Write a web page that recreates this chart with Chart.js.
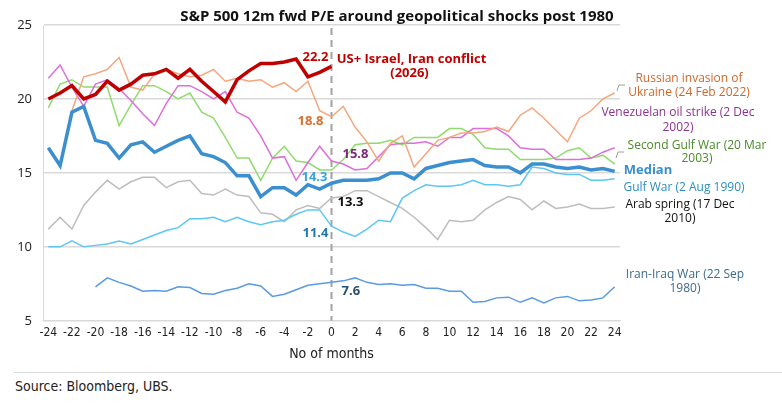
<!DOCTYPE html>
<html><head><meta charset="utf-8">
<script src="https://cdn.jsdelivr.net/npm/chart.js@4.4.1/dist/chart.umd.min.js"></script>
<style>
html,body{margin:0;padding:0;background:#fff;}
#wrap{position:relative;width:782px;height:410px;}
#sep{position:absolute;left:14px;top:372px;width:768px;height:1px;background:#d9d9d9;}
#src{position:absolute;left:15px;top:378px;font:14px "Liberation Sans Narrow","DejaVu Sans Condensed",Roboto,sans-serif;color:#222;}
</style></head>
<body><div id="wrap"><canvas id="c" width="782" height="370"></canvas><div id="sep"></div><div id="src">Source: Bloomberg, UBS.</div></div>
<script>
const months = [];
for (let m = -24; m <= 24; m++) months.push(m);
const xTicks = months.filter(m => m % 2 === 0);
const yTicks = [5, 10, 15, 20, 25];

const usIsraelIran = [20.0,20.4,20.9,20.0,20.3,21.2,20.6,21.0,21.6,21.7,22.0,21.4,22.0,21.2,20.5,19.8,21.3,21.9,22.4,22.4,22.5,22.7,21.5,21.8,22.2];
const russiaUkraine = [null,null,19.2,21.5,21.7,22.0,22.8,20.8,20.6,21.7,22.0,21.7,21.5,21.6,22.0,21.2,21.4,21.2,21.3,20.8,21.1,20.5,21.2,19.2,18.8,19.5,18.1,17.1,15.8,17.0,17.5,15.4,16.3,17.2,17.4,17.7,17.7,17.8,18.1,17.8,18.9,19.4,18.7,17.9,17.1,18.7,19.2,20.0,20.4];
const venezuela = [21.4,22.3,20.8,19.5,21.0,21.3,20.7,19.9,19.0,18.2,19.7,20.9,20.9,20.5,20.0,20.5,19.1,18.7,17.5,16.0,16.1,14.5,15.7,16.8,15.8,15.6,15.2,15.3,16.1,16.9,17.0,17.0,17.1,16.8,17.4,17.4,18.0,18.0,18.0,17.5,16.7,16.6,16.6,15.9,15.9,15.9,16.0,16.4,16.7];
const secondGulf = [19.4,21.0,21.3,20.8,20.8,20.8,18.2,19.6,20.9,20.9,20.5,20.0,20.4,19.1,18.7,17.4,16.0,16.0,14.5,16.0,16.8,15.8,15.7,15.2,15.2,15.9,16.9,17.0,17.0,17.2,16.9,17.4,17.4,17.4,18.0,18.0,17.6,16.7,16.6,16.6,15.9,15.9,15.9,16.0,16.5,16.7,16.0,16.2,15.6];
const median = [16.7,15.5,19.1,19.5,17.2,17.0,16.0,16.9,17.1,16.4,16.8,17.2,17.5,16.3,16.1,15.7,14.8,14.8,13.4,14.0,14.0,13.5,14.2,13.9,14.3,14.5,14.5,14.5,14.6,15.0,15.0,14.6,15.3,15.5,15.7,15.8,15.9,15.5,15.4,15.4,15.0,15.6,15.6,15.4,15.3,15.4,15.2,15.3,15.1];
const gulfWar = [10.0,10.0,10.4,10.0,10.1,10.2,10.4,10.2,10.5,10.8,11.1,11.3,11.9,11.9,12.0,11.7,12.0,11.7,11.5,11.7,11.8,12.2,12.5,12.5,11.4,11.0,10.7,11.2,11.8,11.7,13.3,13.8,14.2,14.1,14.1,14.2,14.5,14.2,14.2,14.1,14.2,15.4,15.3,15.0,14.9,14.9,14.5,14.5,14.6];
const arabSpring = [11.2,12.0,11.2,12.8,13.7,14.5,13.9,14.4,14.7,14.7,14.0,14.4,14.5,13.6,13.5,13.9,13.5,13.4,12.3,12.2,11.7,12.5,12.8,12.6,13.3,13.4,13.8,13.8,13.4,13.0,12.6,12.0,11.3,10.5,11.8,11.7,11.8,12.5,13.0,13.4,13.2,12.5,13.1,12.6,12.7,12.9,12.6,12.6,12.7];
const iranIraq = [null,null,null,null,7.3,7.9,7.6,7.35,7.0,7.05,7.0,7.3,7.25,6.85,6.8,7.05,7.2,7.5,7.35,6.65,6.8,7.1,7.4,7.5,7.6,7.7,7.9,7.6,7.45,7.5,7.4,7.45,7.2,7.2,7.0,7.0,6.25,6.3,6.55,6.6,6.25,6.55,6.2,6.55,6.65,6.35,6.4,6.55,7.3];

function pts(values){ return values.map((v, i) => ({x: months[i], y: v})); }
function ds(label, data, color, width){
  return {label, data: pts(data), borderColor: color, backgroundColor: color, borderWidth: width,
    pointRadius: 0, tension: 0, spanGaps: false, fill: false};
}

const FONT = '"Open Sans","Noto Sans",sans-serif';
const NARROW = '"Liberation Sans Narrow","DejaVu Sans Condensed",Roboto,sans-serif';

const overlay = {
  id: 'overlay',
  beforeDatasetsDraw(chart){
    const {ctx, chartArea: ca, scales: {x}} = chart;
    const x0 = x.getPixelForValue(0);
    ctx.save();
    ctx.strokeStyle = '#a3a3a3'; ctx.lineWidth = 2; ctx.setLineDash([7,5]);
    ctx.beginPath(); ctx.moveTo(x0, ca.top + 3); ctx.lineTo(x0, ca.bottom); ctx.stroke();
    ctx.restore();
  },
  afterDatasetsDraw(chart){
    const {ctx, chartArea: ca, scales: {x, y}} = chart;
    const i0 = months.indexOf(0);
    const x0 = x.getPixelForValue(0);
    ctx.save();
    ctx.fillStyle = '#111'; ctx.font = 'bold 15px ' + FONT; ctx.textAlign = 'center'; ctx.textBaseline = 'middle';
    ctx.fillText('S&P 500 12m fwd P/E around geopolitical shocks post 1980', 397, 17);
    const lab = (txt, val, dx, dy, color, align) => {
      ctx.fillStyle = color; ctx.font = 'bold 13px ' + FONT; ctx.textAlign = align; ctx.textBaseline = 'middle';
      ctx.fillText(txt, x0 + dx, y.getPixelForValue(val) + dy);
    };
    lab(usIsraelIran[i0].toFixed(1), usIsraelIran[i0], -3, -9, '#c00000', 'right');
    lab(russiaUkraine[i0].toFixed(1), russiaUkraine[i0], -8, 5, '#d9702f', 'right');
    lab(venezuela[i0].toFixed(1), venezuela[i0], 11, -7, '#7a2a78', 'left');
    lab(median[i0].toFixed(1), median[i0], -4, -6, '#3aa3e0', 'right');
    lab(arabSpring[i0].toFixed(1), arabSpring[i0], 6, 4, '#111', 'left');
    lab(gulfWar[i0].toFixed(1), gulfWar[i0], -3, 7, '#1f78b0', 'right');
    lab(iranIraq[i0].toFixed(1), iranIraq[i0], 10, 9, '#24506e', 'left');
    ctx.fillStyle = '#c00000'; ctx.font = 'bold 13px ' + FONT; ctx.textAlign = 'center';
    ctx.fillText('US+ Israel, Iran conflict', x0 + 80, 59);
    ctx.fillText('(2026)', x0 + 78, 73);
    const R = ca.right;
    const side = (lines, cx, ys, color, bold) => {
      ctx.fillStyle = color; ctx.font = (bold ? 'bold 13px ' : '12px ') + FONT; ctx.textAlign = 'center';
      lines.forEach((t, k) => ctx.fillText(t, R + cx, ys[k]));
    };
    side(['Russian invasion of', 'Ukraine (24 Feb 2022)'], 69, [79, 93], '#d0672a');
    side(['Venezuelan oil strike (2 Dec', '2002)'], 58, [113, 128], '#8e3290');
    side(['Second Gulf War (20 Mar', '2003)'], 77, [146, 159], '#4a8a2a');
    side(['Median'], 28, [170], '#3a8fd0', true);
    side(['Gulf War (2 Aug 1990)'], 64, [188], '#2e8fc0');
    side(['Arab spring (17 Dec', '2010)'], 60, [205, 219], '#111');
    side(['Iran-Iraq War (22 Sep', '1980)'], 65, [275, 289], '#3d6a8a');
    ctx.strokeStyle = '#a0a0a0'; ctx.lineWidth = 1;
    ctx.beginPath(); ctx.moveTo(R - 3, 91); ctx.lineTo(R - 1, 85); ctx.lineTo(R + 5, 85); ctx.stroke();
    ctx.beginPath(); ctx.moveTo(R - 4, 158); ctx.lineTo(R - 2, 152); ctx.lineTo(R + 4, 152); ctx.stroke();
    ctx.restore();
  }
};

new Chart(document.getElementById('c'), {
  type: 'line',
  data: {
    datasets: [
      ds('US+ Israel, Iran conflict (2026)', usIsraelIran, '#c00000', 3.5),
      ds('Median', median, '#3b8fcf', 3.5),
      ds('Russian invasion of Ukraine (24 Feb 2022)', russiaUkraine, '#f6a67c', 1.5),
      ds('Venezuelan oil strike (2 Dec 2002)', venezuela, '#dc6fd9', 1.5),
      ds('Second Gulf War (20 Mar 2003)', secondGulf, '#8fdc6c', 1.5),
      ds('Gulf War (2 Aug 1990)', gulfWar, '#5cc7f3', 1.5),
      ds('Arab spring (17 Dec 2010)', arabSpring, '#bdbdbd', 1.5),
      ds('Iran-Iraq War (22 Sep 1980)', iranIraq, '#5a9be0', 1.5)
    ]
  },
  options: {
    responsive: false, animation: false,
    layout: {padding: {top: 25, right: 162, left: 0, bottom: 7}},
    plugins: {legend: {display: false}, tooltip: {enabled: false}, title: {display: false}},
    scales: {
      x: {
        type: 'linear', min: -24.45, max: 24.45,
        afterBuildTicks: s => { s.ticks = xTicks.map(v => ({value: v})); },
        grid: {display: false, drawTicks: false},
        border: {display: true, color: '#d9d9d9'},
        ticks: {autoSkip: false, maxRotation: 0, padding: 5, color: '#222',
          font: {family: NARROW, size: 12}, callback: v => String(v)},
        title: {display: true, text: 'No of months', color: '#222', font: {family: NARROW, size: 14}, padding: {top: 1, bottom: 0}}
      },
      y: {
        min: 5, max: 25,
        afterFit: s => { s.width = 43; },
        afterBuildTicks: s => { s.ticks = yTicks.map(v => ({value: v})); },
        grid: {color: '#d9d9d9', lineWidth: 1.5, drawTicks: false},
        border: {display: true, color: '#d9d9d9'},
        ticks: {padding: 11, color: '#222', font: {family: FONT, size: 13}}
      }
    }
  },
  plugins: [overlay]
});
</script>
</body></html>
